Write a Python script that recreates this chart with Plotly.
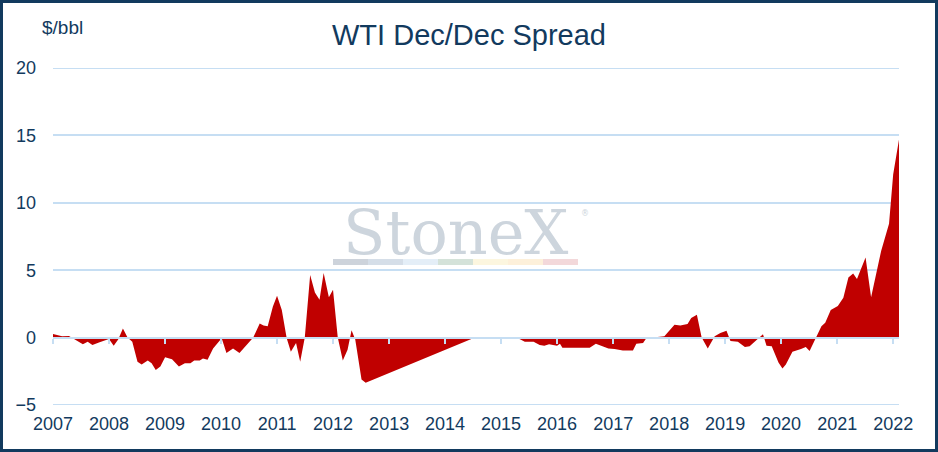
import plotly.graph_objects as go

# WTI Dec/Dec spread, $/bbl
dates = [
    "2007-01-01", "2007-03-01", "2007-04-15", "2007-06-05", "2007-07-15", "2007-08-15",
    "2007-09-15", "2007-11-01", "2007-12-15", "2008-01-01", "2008-02-01", "2008-03-01",
    "2008-04-01", "2008-05-01", "2008-06-01", "2008-07-05", "2008-08-01", "2008-09-10",
    "2008-10-05", "2008-11-01", "2008-12-01", "2009-01-01", "2009-02-15", "2009-04-01",
    "2009-05-10", "2009-06-15", "2009-07-10", "2009-08-15", "2009-09-05", "2009-10-05",
    "2009-11-10", "2009-12-25", "2010-01-05", "2010-02-05", "2010-03-20", "2010-05-01",
    "2010-07-30", "2010-09-10", "2010-10-05", "2010-11-01", "2010-12-05", "2011-01-01",
    "2011-02-01", "2011-03-05", "2011-04-01", "2011-05-05", "2011-06-01", "2011-07-01",
    "2011-08-05", "2011-09-05", "2011-10-05", "2011-11-01", "2011-12-05", "2012-01-01",
    "2012-02-01", "2012-03-05", "2012-04-05", "2012-05-01", "2012-05-25", "2012-07-05",
    "2012-08-01", "2014-07-15", "2015-04-01", "2015-05-01", "2015-06-05", "2015-08-01",
    "2015-09-10", "2015-10-10", "2015-11-10", "2016-01-01", "2016-01-20", "2016-02-05",
    "2016-08-01", "2016-09-10", "2016-12-01", "2017-01-10", "2017-03-05", "2017-05-10",
    "2017-06-01", "2017-07-15", "2017-08-05", "2017-12-01", "2018-02-05", "2018-03-15",
    "2018-05-01", "2018-05-25", "2018-07-01", "2018-08-01", "2018-09-10", "2018-10-25",
    "2018-12-01", "2019-01-10", "2019-02-05", "2019-03-25", "2019-05-10", "2019-06-10",
    "2019-08-01", "2019-09-05", "2019-09-28", "2019-11-01", "2019-12-15", "2020-01-10",
    "2020-02-01", "2020-03-15", "2020-05-10", "2020-06-10", "2020-07-05", "2020-08-15",
    "2020-09-20", "2020-10-15", "2020-11-20", "2021-01-05", "2021-02-10", "2021-03-15",
    "2021-04-15", "2021-05-10", "2021-07-05", "2021-08-10", "2021-10-15", "2021-12-05",
    "2022-01-01", "2022-02-08",
]
spread = [
    0.27, 0.1, 0.12, -0.2, -0.5, -0.3,
    -0.55, -0.35, -0.15, -0.1, -0.6, -0.15,
    0.67, 0.0, -0.3, -1.8, -2.0, -1.7,
    -1.9, -2.4, -2.15, -1.45, -1.6, -2.15,
    -1.9, -1.9, -1.7, -1.7, -1.55, -1.65,
    -0.8, -0.15, -0.05, -1.15, -0.8, -1.15,
    0.0, 1.05, 0.9, 0.85, 2.3, 3.1,
    2.05, -0.05, -1.05, -0.4, -1.8, 0.0,
    4.65, 3.35, 2.8, 4.8, 3.0, 3.55,
    0.0, -1.7, -0.9, 0.55, -0.15, -3.1,
    -3.35, 0.0, 0.0, -0.1, -0.3, -0.3,
    -0.55, -0.6, -0.5, -0.6, -0.45, -0.75,
    -0.75, -0.45, -0.8, -0.85, -0.95, -0.95,
    -0.45, -0.4, -0.05, 0.1, 0.95, 0.9,
    1.0, 1.45, 1.7, 0.0, -0.8, 0.1,
    0.35, 0.5, -0.25, -0.3, -0.7, -0.65,
    -0.1, 0.25, -0.6, -0.65, -1.85, -2.3,
    -2.0, -1.05, -0.85, -0.7, -1.0, 0.0,
    0.85, 1.1, 2.05, 2.35, 2.95, 4.45,
    4.75, 4.35, 5.95, 3.0, 6.45, 8.45,
    12.1, 14.7,
]
y_ticks = [-5, 0, 5, 10, 15, 20]

navy = "#123A5E"
grid = "#C6DEF3"
W, H = 938, 452
ml, mr, mt, mb = 53, 39, 68, 47
pw, ph = W - ml - mr, H - mt - mb


def px(x):
    return (x - ml) / pw


def py(y):
    return (H - mb - y) / ph


fig = go.Figure(go.Scatter(
    x=dates, y=spread,
    mode="lines",
    line=dict(width=0, color="#C00000"),
    fill="tozeroy",
    fillcolor="#C00000",
    hoverinfo="x+y",
))

shapes = []
# plotly leaves out the grid lines at the ends of the range, so draw those two
for yv in (y_ticks[0], y_ticks[-1]):
    shapes.append(dict(
        type="line", layer="below", xref="paper", yref="y",
        x0=0, x1=1, y0=yv, y1=yv, line=dict(color=grid, width=2),
    ))

# pale colour strip under the watermark
strip = ["#CDD3DB", "#D5DEE8", "#E4EEF7", "#D4E2D9", "#FCF6DF", "#FDF0DA", "#F3D8DA"]
sx0, sw = 333, 35
for i, c in enumerate(strip):
    shapes.append(dict(
        type="rect", layer="below", line=dict(width=0), fillcolor=c,
        xref="paper", yref="paper",
        x0=px(sx0 + i * sw), x1=px(sx0 + (i + 1) * sw),
        y0=py(265), y1=py(259),
    ))
# outer border
shapes.append(dict(
    type="rect", xref="paper", yref="paper", line=dict(color=navy, width=3),
    x0=px(1.5), x1=px(W - 1.5), y0=py(H - 1.5), y1=py(1.5),
))

annotations = [
    dict(text="$/bbl", xref="paper", yref="paper", showarrow=False,
         x=px(40), xanchor="left", y=py(28), yanchor="middle",
         font=dict(size=19, color=navy)),
    dict(text="StoneX", xref="paper", yref="paper", showarrow=False,
         x=px(455), xanchor="center", y=py(232), yanchor="middle",
         font=dict(family="DejaVu Serif, Liberation Serif", size=62, color="#CDD5DD")),
    dict(text="®", xref="paper", yref="paper", showarrow=False,
         x=px(585), xanchor="center", y=py(213), yanchor="middle",
         font=dict(family="DejaVu Sans", size=8, color="#CDD5DD")),
]

fig.update_layout(
    width=W, height=H,
    margin=dict(l=ml, r=mr, t=mt, b=mb),
    paper_bgcolor="white", plot_bgcolor="white",
    showlegend=False,
    font=dict(family="Liberation Sans, Arial", color=navy, size=18),
    title=dict(
        text="WTI Dec/Dec Spread", x=0.5, xref="container", xanchor="center",
        y=1 - 35 / H, yref="container", yanchor="middle",
        font=dict(size=29, color=navy),
    ),
    xaxis=dict(
        type="date",
        range=["2007-01-01", "2022-02-08"],
        tick0="2007-01-01", dtick="M12", tickformat="%Y",
        showgrid=False, zeroline=False, showline=False, ticks="",
        ticklabelstandoff=6,
    ),
    xaxis2=dict(
        overlaying="x", matches="x", anchor="free", position=5 / 25,
        showticklabels=False, showgrid=False, zeroline=False,
        showline=True, linecolor=grid, linewidth=2,
        ticks="outside", ticklen=5, tickwidth=2, tickcolor=grid,
        tick0="2007-01-01", dtick="M12",
    ),
    yaxis=dict(
        range=[-5, 20], tickvals=y_ticks,
        showgrid=True, gridcolor=grid, gridwidth=2,
        zeroline=False, showline=False, ticks="",
        ticklabelstandoff=16,
    ),
    shapes=shapes,
    annotations=annotations,
)

# invisible copy so the zero-crossing axis is drawn
fig.add_trace(go.Scatter(x=dates, y=spread, xaxis="x2", mode="lines",
                         line=dict(width=0), opacity=0, hoverinfo="skip"))

# drop the default page margin so the 938x452 figure fills the window
fig.write_html("out.html", config={"displayModeBar": False},
               post_script="document.body.style.margin='0';document.body.style.overflow='hidden';")
